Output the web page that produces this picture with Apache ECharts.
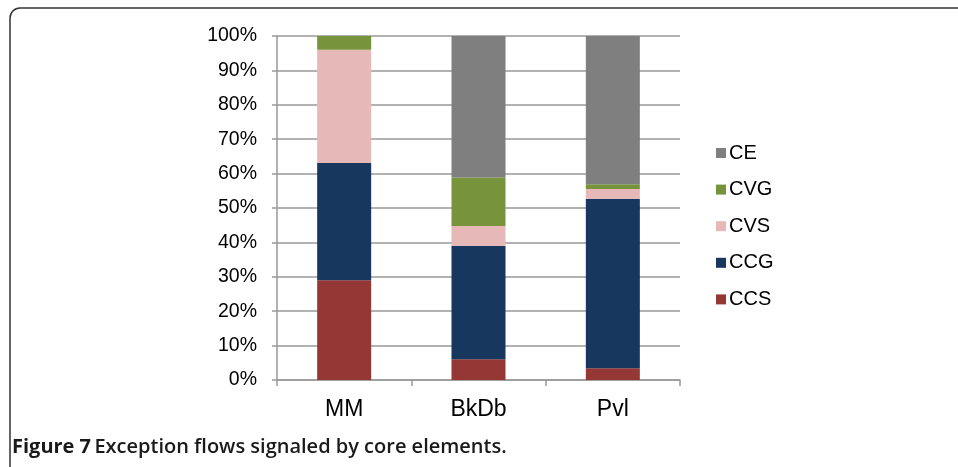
<!DOCTYPE html>
<html>
<head>
<meta charset="utf-8">
<script src="https://cdn.jsdelivr.net/npm/echarts@6/dist/echarts.min.js"></script>
<style>
  html, body { margin: 0; padding: 0; background: #fff; }
  #chart { width: 958px; height: 467px; }
</style>
</head>
<body>
<div id="chart"></div>
<script>
// Share (%) of exception flows per core element type, per model
const categories = ['MM', 'BkDb', 'Pvl'];
const seriesNames = ['CCS', 'CCG', 'CVS', 'CVG', 'CE'];
const ccs = [29.0, 6.0, 3.4];
const ccg = [34.1, 33.0, 49.3];
const cvs = [32.9, 5.8, 2.8];
const cvg = [4.0, 14.1, 1.4];
const ce  = [0.0, 41.1, 43.1];
const yTicks = [0, 10, 20, 30, 40, 50, 60, 70, 80, 90, 100];

const colors = {
  CCS: '#953735',
  CCG: '#17375E',
  CVS: '#E6B9B8',
  CVG: '#77933C',
  CE:  '#7F7F7F'
};
const values = { CCS: ccs, CCG: ccg, CVS: cvs, CVG: cvg, CE: ce };

const font = '"Liberation Sans", Arial, Helvetica, sans-serif';
const gridColor = '#999999';

const chart = echarts.init(document.getElementById('chart'), null, { renderer: 'canvas' });

chart.setOption({
  animation: false,
  backgroundColor: '#ffffff',
  textStyle: { fontFamily: font },
  grid: { left: 277, right: 278, top: 36, bottom: 87, containLabel: false },
  legend: {
    orient: 'vertical',
    left: 711,
    top: 138,
    data: seriesNames.slice().reverse(),
    icon: 'rect',
    itemWidth: 10,
    itemHeight: 10,
    itemGap: 16.6,
    textStyle: { fontFamily: font, fontSize: 20, color: '#000', padding: [0, 0, 0, -2] }
  },
  xAxis: {
    type: 'category',
    data: categories,
    axisLine: { lineStyle: { color: gridColor, width: 1.5 } },
    axisTick: { show: true, length: 6, lineStyle: { color: gridColor, width: 1.5 } },
    axisLabel: { fontFamily: font, fontSize: 23, color: '#000', margin: 18 }
  },
  yAxis: {
    type: 'value',
    min: yTicks[0],
    max: yTicks[yTicks.length - 1],
    interval: 10,
    axisLine: { show: true, lineStyle: { color: gridColor, width: 1.5 } },
    axisTick: { show: true, length: 5, lineStyle: { color: gridColor, width: 1.5 } },
    splitLine: { lineStyle: { color: gridColor, width: 1.5 } },
    axisLabel: {
      fontFamily: font, fontSize: 19.5, color: '#000', margin: 20,
      formatter: v => v + '%'
    }
  },
  series: seriesNames.map(name => ({
    name: name,
    type: 'bar',
    stack: 'total',
    barWidth: 54,
    data: values[name],
    itemStyle: { color: colors[name] }
  })),
  graphic: [
    {
      type: 'rect',
      shape: { x: 10, y: 8, width: 980, height: 500, r: 10 },
      style: { fill: 'none', stroke: '#333333', lineWidth: 1.5 },
      silent: true
    },
    {
      type: 'text',
      left: 12,
      top: 437,
      style: {
        text: '{b|Figure 7} {n|Exception flows signaled by core elements.}',
        rich: {
          b: { fontFamily: '"Open Sans", sans-serif', fontWeight: 700, fontSize: 20, fill: '#1a1a1a' },
          n: { fontFamily: '"Open Sans", sans-serif', fontWeight: 600, fontSize: 20, fill: '#1a1a1a' }
        }
      }
    }
  ]
});
</script>
</body>
</html>
